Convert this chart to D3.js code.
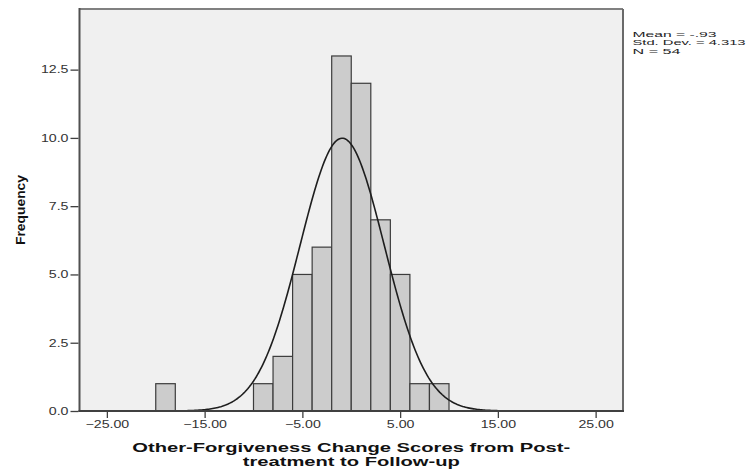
<!DOCTYPE html>
<html>
<head>
<meta charset="utf-8">
<script src="https://cdn.jsdelivr.net/npm/d3@7"></script>
<style>
  html, body { margin: 0; padding: 0; background: #ffffff; }
  svg { display: block; }
  text { font-family: "Liberation Sans", Arial, sans-serif; }
</style>
</head>
<body>
<svg id="chart" width="749" height="472"></svg>
<script>
// ---- data ----
const binStarts = [-20, -10, -8, -6, -4, -2, 0, 2, 4, 6, 8];
const counts    = [1, 1, 2, 5, 6, 13, 12, 7, 5, 1, 1];
const binWidth  = 2;
const statMean  = -0.93;
const statSD    = 4.313;
const statN     = 54;
const xTicks    = [-25, -15, -5, 5, 15, 25];
const yTicks    = [0, 2.5, 5, 7.5, 10, 12.5];
const statLines = ["Mean = -.93", "Std. Dev. = 4.313", "N = 54"];
const xTitle    = ["Other-Forgiveness Change Scores from Post-", "treatment to Follow-up"];
const yTitle    = "Frequency";

// ---- layout ----
const L = 79.5, R = 623, T = 9, B = 411;
const svg = d3.select("#chart");

const x = d3.scaleLinear().domain([-27.8, 27.8]).range([L, R]);
const y = d3.scaleLinear().domain([0, 14.72]).range([B, T]);

// plot background
svg.append("rect")
  .attr("x", L).attr("y", T).attr("width", R - L).attr("height", B - T)
  .attr("fill", "#f0f0f0");

// bars
const bins = binStarts.map((s, i) => ({ x0: s, x1: s + binWidth, c: counts[i] }));
svg.append("g").selectAll("rect").data(bins).join("rect")
  .attr("x", d => x(d.x0))
  .attr("y", d => y(d.c))
  .attr("width", d => x(d.x1) - x(d.x0))
  .attr("height", d => y(0) - y(d.c))
  .attr("fill", "#cccccc")
  .attr("stroke", "#3c3c3c")
  .attr("stroke-width", 1.2);

// normal curve
const dom = x.domain();
const pts = d3.range(0, 401).map(i => {
  const v = dom[0] + (dom[1] - dom[0]) * i / 400;
  const dens = Math.exp(-0.5 * Math.pow((v - statMean) / statSD, 2)) / (statSD * Math.sqrt(2 * Math.PI));
  return [v, dens * statN * binWidth];
});
svg.append("path")
  .datum(pts)
  .attr("fill", "none")
  .attr("stroke", "#1e1e1e")
  .attr("stroke-width", 1.6)
  .attr("d", d3.line().x(d => x(d[0])).y(d => y(d[1])));

// frame
svg.append("line").attr("x1", L).attr("x2", R).attr("y1", T).attr("y2", T)
  .attr("stroke", "#808080").attr("stroke-width", 2);
svg.append("line").attr("x1", R).attr("x2", R).attr("y1", T).attr("y2", B)
  .attr("stroke", "#6a6a6a").attr("stroke-width", 2);
svg.append("line").attr("x1", L).attr("x2", L).attr("y1", T - 1).attr("y2", B + 1)
  .attr("stroke", "#505050").attr("stroke-width", 2);
svg.append("line").attr("x1", L - 1).attr("x2", R + 1).attr("y1", B).attr("y2", B)
  .attr("stroke", "#404040").attr("stroke-width", 2);

// axes
const sx = 1.35;
const xAxis = svg.append("g")
  .attr("transform", `translate(0,${B + 1})`)
  .call(d3.axisBottom(x).tickValues(xTicks).tickFormat(d3.format(".2f")).tickSize(6).tickPadding(3));
xAxis.select(".domain").remove();
xAxis.selectAll("line").attr("stroke", "#404040").attr("stroke-width", 1.3);
xAxis.selectAll("text")
  .attr("font-size", 10.5).attr("fill", "#333")
  .attr("font-family", "Liberation Sans, Arial, sans-serif")
  .attr("transform", `scale(${sx},1)`);

const yAxis = svg.append("g")
  .attr("transform", `translate(${L - 1},0)`)
  .call(d3.axisLeft(y).tickValues(yTicks).tickFormat(d3.format(".1f")).tickSize(8).tickPadding(2));
yAxis.select(".domain").remove();
yAxis.selectAll("line").attr("stroke", "#404040").attr("stroke-width", 1.3);
yAxis.selectAll("text")
  .attr("font-size", 10.5).attr("fill", "#333")
  .attr("font-family", "Liberation Sans, Arial, sans-serif")
  .attr("x", -10 / sx)
  .attr("transform", `scale(${sx},1)`);

// axis titles
const cx = (L + R) / 2;
svg.append("text")
  .attr("x", cx).attr("y", 452)
  .attr("text-anchor", "middle")
  .attr("font-size", 13.5).attr("font-weight", "bold").attr("fill", "#111")
  .attr("textLength", 438).attr("lengthAdjust", "spacingAndGlyphs")
  .text(xTitle[0]);
svg.append("text")
  .attr("x", cx).attr("y", 465.5)
  .attr("text-anchor", "middle")
  .attr("font-size", 13.5).attr("font-weight", "bold").attr("fill", "#111")
  .attr("textLength", 217).attr("lengthAdjust", "spacingAndGlyphs")
  .text(xTitle[1]);

svg.append("text")
  .attr("transform", `translate(25,${(T + B) / 2}) rotate(-90)`)
  .attr("text-anchor", "middle")
  .attr("font-size", 13.5).attr("font-weight", "bold").attr("fill", "#111")
  .attr("textLength", 70).attr("lengthAdjust", "spacingAndGlyphs")
  .text(yTitle);

// stats box
const statWidths = [84, 113, 48];
svg.append("g").selectAll("text").data(statLines).join("text")
  .attr("x", 632.5)
  .attr("y", (d, i) => 37 + i * 8.4)
  .attr("font-size", 7.6).attr("fill", "#222")
  .attr("textLength", (d, i) => statWidths[i]).attr("lengthAdjust", "spacingAndGlyphs")
  .text(d => d);
</script>
</body>
</html>
